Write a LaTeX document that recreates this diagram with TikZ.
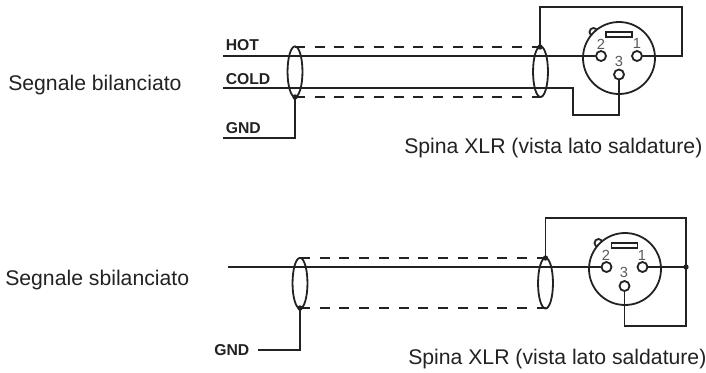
\documentclass[tikz,border=0pt]{standalone}
\usepackage{fontspec}
\setmainfont{Liberation Sans}
\usetikzlibrary{shapes.geometric}
\definecolor{ink}{HTML}{222222}
\tikzset{
  wire/.style={draw=ink,line width=1.35pt},
  shield/.style={draw=ink,line width=1.35pt,dash pattern=on 7.5pt off 7.3pt},
  loop/.style={ellipse,draw=ink,line width=1.35pt,minimum width=11.2pt,minimum height=38pt,inner sep=0pt},
  pin/.style={circle,draw=ink,line width=1.35pt,fill=white,minimum size=7.5pt,inner sep=0pt},
  shell/.style={circle,draw=ink,line width=1.35pt,fill=white,minimum size=54pt,inner sep=0pt},
  bump/.style={circle,draw=ink,line width=1.35pt,minimum size=6pt,inner sep=0pt},
  keyway/.style={draw=ink,line width=1.35pt,minimum width=19.5pt,minimum height=4pt,inner sep=0pt},
  dot/.style={circle,fill=ink,minimum size=4pt,inner sep=0pt},
  lab/.style={inner sep=0pt,text=ink,font=\fontsize{15.9pt}{18pt}\selectfont},
  tag/.style={inner sep=0pt,text=ink,font=\fontsize{11.8pt}{13pt}\selectfont\bfseries},
  num/.style={inner sep=0pt,text=black!65,font=\fontsize{11pt}{12pt}\selectfont},
}
\begin{document}
\begin{tikzpicture}[x=0.75pt,y=-0.75pt]
\useasboundingbox (0,0) rectangle (706,372);
% --- top
\coordinate (hotL) at (223,56);
\coordinate (coldL) at (223,88);
\coordinate (gndL) at (223,138);
\coordinate (sT) at (295,47);
\coordinate (sB) at (295,97);
\coordinate (eT) at (540,47);
\coordinate (eB) at (540,97);
\node[bump] at (593.5,32) {};
\node[shell] (xlr) at (619,58) {};
\node[keyway] (key) at (619,34.5) {};
\node[pin] (p2) at (601,56) {};
\node[pin] (p1) at (637,56) {};
\node[pin] (p3) at (619,74.5) {};
\node[num] at (601,44) {2};
\node[num] at (637,43.5) {1};
\node[num] at (619,61) {3};
\draw[wire] (hotL) -- (p2.west);
\draw[wire] (coldL) -- (573,88) -- (573,115) -- (619,115) -- (p3.south);
\draw[wire] (p1.east) -- (682,56) -- (682,7) -- (540,7) -- (eT);
\draw[shield] (sT) -- (eT);
\draw[shield] (sB) -- (eB);
\draw[wire] (sB) -- (295,138) -- (gndL);
\node[loop] (l1) at (295,71.7) {};
\node[loop] (r1) at (540.5,71.7) {};
\node[dot] at (sB) {};
\node[dot] at (eT) {};
\node[tag,anchor=base west] at (225.5,50.5) {HOT};
\node[tag,anchor=base west] at (225.5,84) {COLD};
\node[tag,anchor=base west] at (225.5,133.5) {GND};
\node[lab,anchor=base west] at (8,90) {Segnale bilanciato};
\node[lab,anchor=base west] at (404,153) {Spina XLR (vista lato saldature)};
% --- bottom
\coordinate (sigL) at (228,267);
\coordinate (gndB) at (258,350);
\coordinate (sT2) at (300,258);
\coordinate (sB2) at (300,308);
\coordinate (eT2) at (545.5,258);
\coordinate (eB2) at (545.5,308);
\node[bump] at (598.5,243) {};
\node[shell] (xlr2) at (625,269) {};
\node[keyway] (key2) at (624.5,245.5) {};
\node[pin] (q2) at (606.5,267) {};
\node[pin] (q1) at (642.5,267) {};
\node[pin] (q3) at (624.5,286) {};
\node[num] at (606,255) {2};
\node[num] at (642,255) {1};
\node[num] at (624,272.5) {3};
\draw[wire] (sigL) -- (q2.west);
\draw[wire] (q1.east) -- (686,267);
\draw[wire] (q3.south) -- (624.5,326) -- (686,326) -- (686,218) -- (545.5,218) -- (eT2);
\draw[shield] (sT2) -- (eT2);
\draw[shield] (sB2) -- (eB2);
\draw[wire] (sB2) -- (300,350) -- (gndB);
\node[loop] (l2) at (300,283.2) {};
\node[loop] (r2) at (545.5,283.2) {};
\node[dot] at (sB2) {};
\node[dot] at (eT2) {};
\node[dot] at (686,267) {};
\node[tag,anchor=base west] at (214,355) {GND};
\node[lab,anchor=base west] at (5,285.5) {Segnale sbilanciato};
\node[lab,anchor=base west] at (408,364.5) {Spina XLR (vista lato saldature)};
\end{tikzpicture}
\end{document}
